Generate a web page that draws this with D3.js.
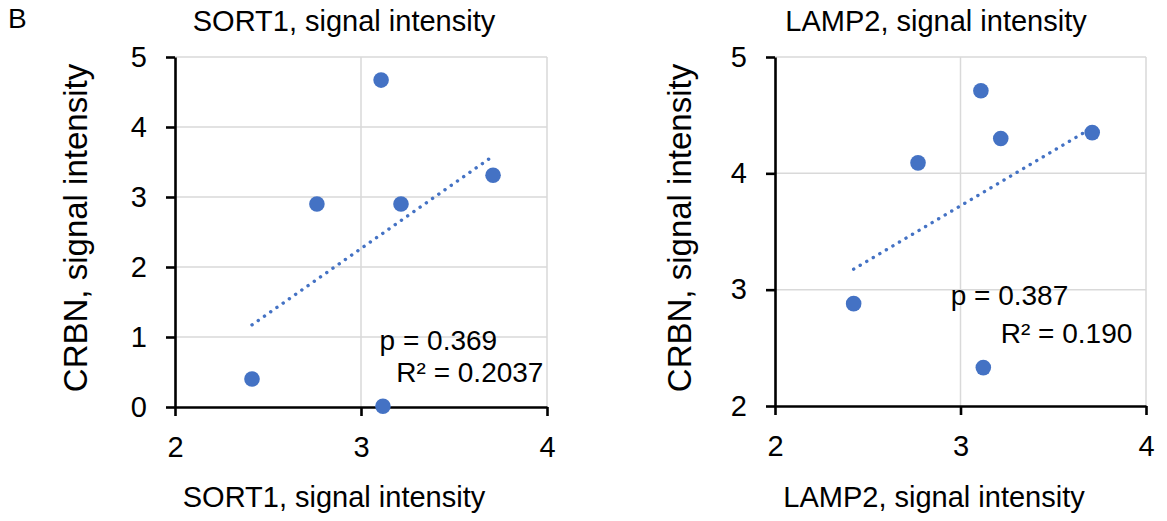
<!DOCTYPE html>
<html>
<head>
<meta charset="utf-8">
<script src="https://cdn.jsdelivr.net/npm/d3@7"></script>
<style>
  body { margin: 0; background: #fff; }
  text { font-family: "Liberation Sans", Arial, sans-serif; fill: #000; }
</style>
</head>
<body>
<div id="chart"></div>
<script>
// values
var sortX = [2.414, 2.763, 3.108, 3.215, 3.118, 3.71];
var crbnVsSort = [0.40, 2.90, 4.67, 2.90, 0.01, 3.31];
var lampX = [2.424, 2.771, 3.11, 3.217, 3.123, 3.71];
var crbnVsLamp = [2.88, 4.09, 4.71, 4.30, 2.33, 4.35];

var xTicks = [2, 3, 4];
var sortYTicks = [0, 1, 2, 3, 4, 5];
var lampYTicks = [2, 3, 4, 5];

var sortStats = ["p = 0.369", "R\u00b2 = 0.2037"];
var lampStats = ["p = 0.387", "R\u00b2 = 0.190"];

var blue = '#4472C4';
var grid = '#d9d9d9';

var svg = d3.select('#chart').append('svg')
    .attr('width', 1167)
    .attr('height', 521);

svg.append('text')
    .attr('x', 8).attr('y', 28)
    .style('font-size', '28px')
    .text('B');

var panels = [
    { name: 'SORT1', xs: sortX, ys: crbnVsSort, yTicks: sortYTicks, stats: sortStats,
      left: 175, right: 547, top: 57, bottom: 407, titleX: 344, xlabX: 334, ylabX: 87,
      statPos: [[3.10, 0.81], [3.19, 0.36]] },
    { name: 'LAMP2', xs: lampX, ys: crbnVsLamp, yTicks: lampYTicks, stats: lampStats,
      left: 775, right: 1146, top: 57, bottom: 406, titleX: 936, xlabX: 934, ylabX: 691,
      statPos: [[2.947, 2.868], [3.217, 2.543]] }
];

panels.forEach(function(p) {
    var x = d3.scaleLinear().domain([2, 4]).range([p.left, p.right]);
    var y = d3.scaleLinear().domain(d3.extent(p.yTicks)).range([p.bottom, p.top]);
    var g = svg.append('g');

    // gridlines
    g.selectAll('.hg').data(p.yTicks.slice(1)).enter().append('line')
        .attr('x1', p.left).attr('x2', p.right)
        .attr('y1', function(d) { return y(d); }).attr('y2', function(d) { return y(d); })
        .style('stroke', grid).style('stroke-width', 1.5);
    g.selectAll('.vg').data(xTicks.slice(1)).enter().append('line')
        .attr('y1', p.top).attr('y2', p.bottom)
        .attr('x1', function(d) { return x(d); }).attr('x2', function(d) { return x(d); })
        .style('stroke', grid).style('stroke-width', 1.5);

    // axes
    var ya = g.append('g')
        .attr('transform', 'translate(' + p.left + ',0)')
        .call(d3.axisLeft(y).tickValues(p.yTicks).tickFormat(d3.format('d'))
            .tickSize(9).tickSizeOuter(0).tickPadding(19));
    var xa = g.append('g')
        .attr('transform', 'translate(0,' + p.bottom + ')')
        .call(d3.axisBottom(x).tickValues(xTicks).tickFormat(d3.format('d'))
            .tickSize(9).tickSizeOuter(0).tickPadding(20));
    [ya, xa].forEach(function(a) {
        a.selectAll('path, line').style('stroke', '#000').style('stroke-width', 2.6);
        a.selectAll('text').style('font-size', '29px')
            .style('font-family', '"Liberation Sans", Arial, sans-serif');
    });

    // least squares trendline
    var mx = d3.mean(p.xs), my = d3.mean(p.ys);
    var sxy = d3.sum(p.xs, function(v, i) { return (v - mx) * (p.ys[i] - my); });
    var sxx = d3.sum(p.xs, function(v) { return (v - mx) * (v - mx); });
    var slope = sxy / sxx, icpt = my - slope * mx;
    var ends = d3.extent(p.xs);
    g.append('line')
        .attr('x1', x(ends[0])).attr('y1', y(icpt + slope * ends[0]))
        .attr('x2', x(ends[1])).attr('y2', y(icpt + slope * ends[1]))
        .style('stroke', blue).style('stroke-width', 3.4)
        .style('stroke-linecap', 'round')
        .style('stroke-dasharray', '0.1 7.5');

    // points
    g.selectAll('circle').data(p.xs).enter().append('circle')
        .attr('cx', function(d) { return x(d); })
        .attr('cy', function(d, i) { return y(p.ys[i]); })
        .attr('r', 7.8)
        .style('fill', blue);

    // stats
    g.selectAll('.stat').data(p.stats).enter().append('text')
        .attr('x', function(d, i) { return x(p.statPos[i][0]); })
        .attr('y', function(d, i) { return y(p.statPos[i][1]); })
        .style('font-size', '28px')
        .text(function(d) { return d; });

    // titles
    g.append('text').attr('x', p.titleX).attr('y', 31)
        .attr('text-anchor', 'middle').style('font-size', '29px')
        .text(p.name + ', signal intensity');
    g.append('text').attr('x', p.xlabX).attr('y', 507)
        .attr('text-anchor', 'middle').style('font-size', '29px')
        .text(p.name + ', signal intensity');
    g.append('text')
        .attr('transform', 'translate(' + p.ylabX + ',228) rotate(-90)')
        .attr('text-anchor', 'middle').style('font-size', '33px')
        .text('CRBN, signal intensity');
});
</script>
</body>
</html>
